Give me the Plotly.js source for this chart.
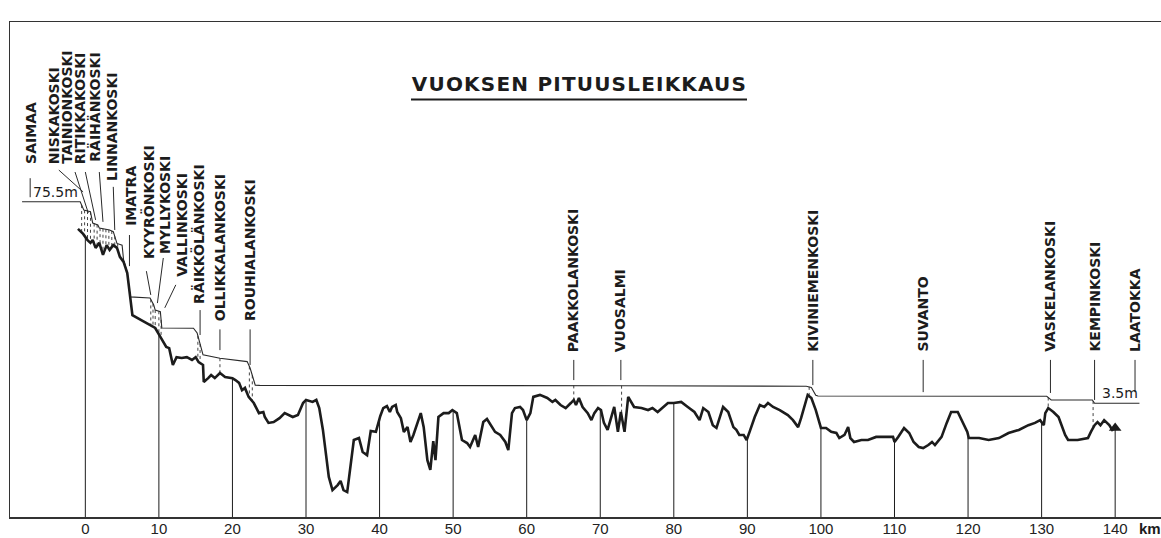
<!DOCTYPE html>
<html><head><meta charset="utf-8">
<script src="https://cdn.plot.ly/plotly-3.0.1.min.js"></script>
<style>
html,body{margin:0;padding:0;background:#fff;}
#chart{width:1161px;height:538px;}
.annotation[data-index="0"] .annotation-text{letter-spacing:1.2px;}
</style></head><body><div id="chart"></div>
<script>
// River bed profile (km from Saimaa outlet, elevation m)
const bedKm = [-1.0,-0.3,0.3,0.7,1.0,1.4,1.9,2.4,2.9,3.3,3.8,4.3,4.7,5.2,5.7,6.1,6.4,7.6,8.8,9.5,
10.2,11.0,11.4,11.9,12.4,13.1,13.8,14.5,15.0,15.4,16.0,16.1,16.7,17.1,17.6,18.3,19.0,20.0,20.4,20.9,
21.3,21.7,22.2,22.9,23.6,24.2,24.4,24.9,25.6,26.4,27.1,27.6,28.2,28.9,29.6,30.0,30.9,31.4,31.8,32.3,
32.7,33.1,33.6,34.3,34.7,35.1,35.6,36.1,36.5,37.2,37.7,38.3,38.8,39.5,40.1,40.5,41.0,41.4,41.7,42.2,
42.4,42.9,43.3,43.8,44.2,44.6,45.6,46.0,46.5,46.9,47.3,47.6,48.0,48.7,49.4,49.9,50.5,51.2,51.9,52.3,
53.0,53.4,54.1,54.6,55.3,55.7,56.4,57.1,57.5,58.0,58.4,59.1,59.5,60.0,60.5,60.9,61.8,62.8,63.5,63.9,
64.6,65.3,66.0,66.4,66.7,67.1,67.6,68.3,68.8,69.2,69.7,70.1,70.5,71.0,71.5,71.9,72.4,72.8,73.3,73.8,
74.6,75.6,76.5,77.1,77.8,79.2,80.0,81.0,81.9,82.8,83.5,84.0,84.7,85.3,85.8,86.7,87.4,88.1,88.5,88.9,
89.5,89.9,90.3,91.0,91.7,92.3,92.8,93.5,94.4,95.5,96.2,96.9,97.3,97.7,98.2,98.7,99.3,100.0,100.7,101.4,
102.1,102.5,103.2,103.7,104.0,104.5,105.5,106.4,107.5,109.8,110.0,110.5,111.3,112.0,112.6,113.3,113.9,114.6,115.1,115.5,
116.4,117.1,117.7,118.6,119.0,119.9,120.1,121.5,122.8,124.2,125.5,126.9,128.2,129.1,129.8,130.3,130.5,130.9,131.6,132.3,
133.2,133.6,134.9,136.3,136.7,137.2,137.6,138.0,138.5,139.2,139.6,140.0];
const bedM = [65.8,64.0,61.8,60.8,61.8,59.0,60.8,56.5,60.0,58.3,60.0,59.0,55.8,54.0,50.0,41.5,35.0,33.2,31.5,30.4,
27.2,23.6,23.2,17.2,20.0,19.7,20.0,19.0,20.0,18.2,17.2,11.1,12.5,13.6,12.5,14.3,12.9,12.5,11.8,10.8,
8.2,9.0,5.8,3.6,0.0,0.4,-1.4,-3.5,-3.2,-1.8,0.0,-0.7,-1.4,-0.7,3.6,4.7,4.0,4.7,1.8,-6.0,
-15.0,-22.8,-27.5,-25.7,-24.2,-27.5,-28.2,-18.5,-9.6,-8.9,-13.9,-15.0,-6.4,-6.7,-1.0,1.8,2.5,0.4,2.2,2.9,
0.4,-1.8,-6.7,-5.0,-10.3,-7.8,0.0,-5.0,-16.8,-20.3,-10.0,-16.8,-1.4,0.0,0.0,1.1,0.0,-9.6,-10.7,-12.1,
-7.8,-12.1,-3.2,-2.1,-5.0,-6.7,-7.8,-10.3,-13.2,0.0,1.8,2.2,1.1,-2.5,0.0,5.8,6.5,5.4,4.0,4.7,
2.9,1.8,3.6,4.7,2.9,5.4,2.2,0.0,-2.5,0.0,1.8,1.1,-3.5,-6.0,-1.4,2.2,-6.7,0.4,-6.7,5.8,
2.2,1.8,1.1,1.8,0.4,3.6,3.6,4.0,2.2,0.4,-2.5,1.8,0.4,-4.3,-5.3,2.2,0.4,-5.0,-6.0,-7.8,
-7.8,-9.6,-6.7,-1.4,2.9,2.2,3.6,2.2,1.1,-0.7,-2.5,-5.0,-1.8,2.2,6.5,5.4,1.1,-5.3,-5.3,-6.7,
-7.1,-8.9,-7.8,-5.0,-8.9,-10.3,-9.6,-9.6,-8.5,-8.5,-10.3,-8.5,-5.3,-7.1,-10.3,-12.1,-12.5,-11.4,-10.3,-11.4,
-8.5,-3.5,0.4,0.4,-1.8,-6.7,-8.9,-8.9,-9.6,-8.9,-7.1,-6.0,-4.3,-3.5,-2.5,-4.3,0.0,1.8,0.4,-1.4,
-7.8,-9.6,-9.6,-8.9,-6.7,-4.3,-3.2,-4.3,-2.5,-4.3,-6.0,-5.3];

// Water surface
const waterKm = [-8.6,-0.7,-0.2,0.7,1.0,1.7,1.9,3.3,3.8,4.3,5.0,5.2,5.7,6.1,8.8,9.3,9.5,10.2,10.4,14.7,
15.2,16.0,18.3,22.0,22.4,23.1,23.7,66.4,72.9,98.0,98.7,99.3,99.6,130.7,131.3,136.9,137.2,143.3];
const waterM = [75.5,75.5,72.5,71.9,67.9,67.2,66.1,65.4,64.8,60.6,60.0,54.7,50.0,41.5,41.1,38.6,36.8,36.2,30.4,30.3,
28.6,20.8,19.6,18.4,16.1,10.0,9.9,9.9,9.8,9.6,9.2,6.4,6.1,6.0,4.7,4.7,3.5,3.5];

// Rapids (dotted fall sections)
const rapidsKm = [-0.5,-0.1,0.3,0.7,1.2,1.6,2.0,2.4,2.8,3.2,3.6,4.0,4.4,8.9,9.2,9.5,10.0,10.3,15.3,15.6,18.3,22.3,22.7,66.4,72.9,98.4,130.9,137.0];

const kmTicks = [0,10,20,30,40,50,60,70,80,90,100,110,120,130,140];
const tickLabels = ['0','10','20','30','40','50','60','70','80','90','100','110','120','130','140'];

const placeNames = ['SAIMAA','NISKAKOSKI','TAINIONKOSKI','RITIKKAKOSKI','RÄIHÄNKOSKI','LINNANKOSKI','IMATRA',
'KYYRÖNKOSKI','MYLLYKOSKI','VALLINKOSKI','RÄIKKÖLÄNKOSKI','OLLIKKALANKOSKI','ROUHIALANKOSKI',
'PAAKKOLANKOSKI','VUOSALMI','KIVINIEMENKOSKI','SUVANTO','VASKELANKOSKI','KEMPINKOSKI','LAATOKKA'];
const levelLabels = ['75.5m','3.5m'];
const levelKm = [-4.1, 140.6];
const levelM = [75.5, 3.5];
const chartTitle = 'VUOKSEN PITUUSLEIKKAUS';

// label layout: text x, text bottom y, leader line x1,y1,x2,y2
const labelPos = [
 [-7.4,88.6,-7.5,83.9,-7.5,77.1],
 [-4.3,88.6,-3.6,86.8,-0.3,79.0],
 [-2.6,88.6,-1.4,86.1,0.4,71.5],
 [-0.7,88.6,0.0,86.1,1.4,69.0],
 [1.2,89.3,1.9,86.1,2.4,68.3],
 [3.6,82.5,3.8,80.8,4.0,65.4],
 [6.2,66.5,6.0,63.6,6.0,52.5],
 [8.5,54.6,8.3,50.7,8.9,42.2],
 [10.8,56.4,10.6,55.4,9.8,39.3],
 [13.1,48.2,12.3,45.8,10.8,37.6],
 [15.3,38.6,15.6,36.8,15.6,27.9],
 [18.3,32.6,18.3,29.9,18.3,22.5],
 [22.4,32.6,22.4,29.9,22.4,17.2],
 [66.4,21.5,66.4,19.0,66.4,11.8],
 [72.8,21.5,72.8,19.0,72.8,11.8],
 [98.9,21.5,98.9,19.0,98.9,10.0],
 [113.9,21.5,113.9,19.0,113.9,7.5],
 [131.2,21.5,131.2,19.0,131.2,7.2],
 [137.2,21.5,137.2,19.0,137.2,4.7],
 [142.7,21.5,142.7,19.0,142.7,7.5]
];

function interp(xs, ys, x){
  if (x <= xs[0]) return ys[0];
  for (let i=0;i<xs.length-1;i++){
    if (x>=xs[i] && x<=xs[i+1]){
      const t=(x-xs[i])/(xs[i+1]-xs[i]);
      return ys[i]+t*(ys[i+1]-ys[i]);
    }
  }
  return ys[ys.length-1];
}

const Y0 = -37.1, Y1 = 139.68;
const X0 = -10.24, X1 = 146.23;
const ink = '#1c1c1c';

const vx=[], vy=[];
kmTicks.forEach(k=>{ vx.push(k,k,null); vy.push(interp(bedKm,bedM,k),Y0,null); });
const hx=[], hy=[];
rapidsKm.forEach(k=>{
  const w=interp(waterKm,waterM,k), b=interp(bedKm,bedM,k);
  if (w>b){ hx.push(k,k,null); hy.push(w,b,null); }
});

const traces = [
 {x:vx,y:vy,mode:'lines',line:{color:ink,width:1},hoverinfo:'skip'},
 {x:hx,y:hy,mode:'lines',line:{color:'#444',width:1,dash:'dot'},hoverinfo:'skip'},
 {x:waterKm,y:waterM,mode:'lines',line:{color:'#2a2a2a',width:1.1},hoverinfo:'skip'},
 {x:bedKm,y:bedM,mode:'lines',line:{color:ink,width:2.6},hoverinfo:'skip'},
 {x:[bedKm[bedKm.length-1]],y:[bedM[bedM.length-1]],mode:'markers',
  marker:{symbol:'triangle-up',size:11,color:ink},hoverinfo:'skip'}
];

const PH = 538-22-21;
const annotations = [
 {text:chartTitle,xref:'paper',yref:'paper',x:(579-10)/1151,y:(517-84)/PH,xanchor:'center',yanchor:'middle',
  showarrow:false,font:{family:'DejaVu Sans',size:20,color:ink,weight:'bold'}}
];
const shapes = [
 {type:'line',xref:'paper',yref:'paper',x0:(411-10)/1151,x1:(747-10)/1151,y0:(517-99.5)/PH,y1:(517-99.5)/PH,
  line:{color:ink,width:2}}
];
placeNames.forEach((n,i)=>{
  const p=labelPos[i];
  annotations.push({text:n,x:p[0],y:p[1],xref:'x',yref:'y',textangle:-90,xanchor:'center',yanchor:'bottom',
    showarrow:false,borderpad:0,font:{family:'DejaVu Sans',size:14,color:ink,weight:'bold'}});
  shapes.push({type:'line',xref:'x',yref:'y',x0:p[2],y0:p[3],x1:p[4],y1:p[5],line:{color:'#2a2a2a',width:1}});
});
levelLabels.forEach((t,i)=>{
  annotations.push({text:t,x:levelKm[i],y:levelM[i],xref:'x',yref:'y',xanchor:'center',yanchor:'bottom',
    yshift:1,showarrow:false,borderpad:0,font:{family:'DejaVu Sans',size:14,color:ink}});
});
annotations.push({text:'km',xref:'x',yref:'paper',x:143.0,y:-0.024,xanchor:'left',yanchor:'middle',showarrow:false,
  font:{family:'Liberation Sans, Arial',size:15,color:ink,weight:'bold'}});

const layout = {
  width:1161,height:538,
  margin:{l:10,r:0,t:22,b:21},
  paper_bgcolor:'#fff',plot_bgcolor:'#fff',
  showlegend:false,
  xaxis:{range:[X0,X1],showgrid:false,zeroline:false,tickvals:kmTicks,ticktext:tickLabels,ticks:'',ticklen:0,
    ticklabelstandoff:-3,
    tickfont:{family:'Liberation Sans, Arial',size:15,color:'#222'},showline:true,mirror:true,
    linecolor:'#333',linewidth:1.5,fixedrange:true},
  yaxis:{range:[Y0,Y1],showgrid:false,zeroline:false,showticklabels:false,ticks:'',showline:true,
    linecolor:'#333',linewidth:1.5,fixedrange:true},
  annotations:annotations,
  shapes:shapes
};
Plotly.newPlot('chart',traces,layout,{displayModeBar:false,staticPlot:true});
</script></body></html>
